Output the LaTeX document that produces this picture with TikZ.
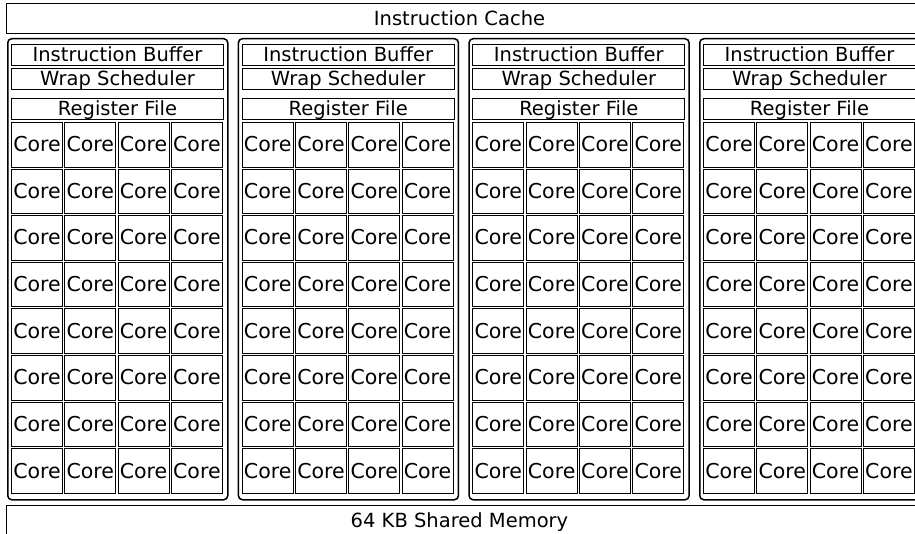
\documentclass[tikz,border=0pt]{standalone}
\usepackage{fontspec}
\setmainfont{DejaVu Sans}
\usetikzlibrary{positioning}

\tikzset{
  unitbox/.style={draw=black, line width=1pt, inner sep=0pt, anchor=north west,
    text height=14pt, text depth=0pt, font=\fontsize{19.5}{20}\selectfont},
  widebox/.style={unitbox, minimum width=212pt, minimum height=21pt},
  corebox/.style={unitbox, minimum width=51pt, minimum height=44.6pt,
    font=\fontsize{20.5}{21}\selectfont},
  barbox/.style={unitbox, draw=none, minimum width=906pt, minimum height=29pt},
  smblock/.style={draw=black, line width=1.5pt, rounded corners=4pt, inner sep=0pt,
    anchor=north west, minimum width=220pt, minimum height=461pt},
}

\begin{document}
\begin{tikzpicture}[x=1pt,y=-1pt]
        \useasboundingbox (0,0) rectangle (915,534);
        \clip (0,0) rectangle (915,534);
        % Top and bottom
        \node[barbox] (icache) at (6,4) {Instruction Cache};
        \draw[line width=1pt] (icache.north west) rectangle ([xshift=20pt]icache.south east);
        \node[barbox] (smem) at (6,505) {64 KB Shared Memory};
        \draw[line width=1pt] (smem.north west) rectangle ([xshift=20pt]smem.south east);
        % Streaming multiprocessors
        \foreach \i in {0,...,3} {
            \node[smblock] (sm\i) at (7+230.67*\i,38) {};
            \node[widebox] (ib\i) at (11+230.67*\i,44) {Instruction Buffer};
            \node[widebox, below=2pt of ib\i.south west, anchor=north west] (ws\i) {Wrap Scheduler};
            \node[widebox, below=8pt of ws\i.south west, anchor=north west] (rf\i) {Register File};
            % Cores
            \foreach \r in {0,...,7}
                \foreach \c in {0,...,3}
                    \node[corebox] (core\i-\r-\c) at (11+230.67*\i+53.3*\c,122+46.6*\r) {Core};
        }
       \end{tikzpicture}
\end{document}
